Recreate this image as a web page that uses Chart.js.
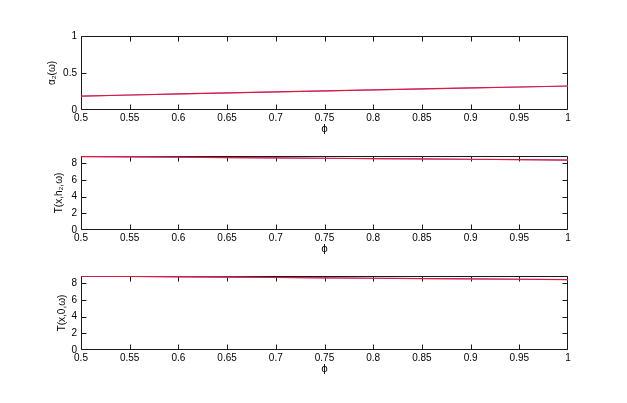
<!DOCTYPE html>
<html>
<head>
<meta charset="utf-8">
<script src="https://cdn.jsdelivr.net/npm/chart.js@4/dist/chart.umd.min.js"></script>
<style>
html,body{margin:0;padding:0;background:#fff;}
#wrap{position:relative;width:627px;height:403px;overflow:hidden;background:#fff;}
canvas{position:absolute;left:0;}
</style>
</head>
<body>
<div id="wrap">
<canvas id="c1" style="top:26px"></canvas>
<canvas id="c2" style="top:146px"></canvas>
<canvas id="c3" style="top:266px"></canvas>
</div>
<script>
// phi values (x axis)
const phi = [0.5, 0.55, 0.6, 0.65, 0.7, 0.75, 0.8, 0.85, 0.9, 0.95, 1.0];
// subplot 1: alpha_2(omega)
const alphaBlue = [0.187, 0.202, 0.216, 0.230, 0.244, 0.257, 0.271, 0.284, 0.297, 0.310, 0.323];
const alphaRed  = [0.188, 0.203, 0.217, 0.231, 0.245, 0.258, 0.272, 0.285, 0.298, 0.311, 0.324];
// subplot 2: T(x,h2,omega)
const th2Blue = [8.79, 8.75, 8.70, 8.66, 8.61, 8.57, 8.53, 8.49, 8.45, 8.41, 8.37];
const th2Red  = [8.78, 8.74, 8.70, 8.66, 8.62, 8.58, 8.54, 8.50, 8.46, 8.42, 8.36];
// subplot 3: T(x,0,omega)
const t0Blue = [8.84, 8.80, 8.76, 8.72, 8.67, 8.63, 8.59, 8.55, 8.51, 8.47, 8.42];
const t0Red  = [8.83, 8.79, 8.75, 8.71, 8.67, 8.62, 8.58, 8.54, 8.50, 8.46, 8.41];
// tick labels
const xTicks = [0.5, 0.55, 0.6, 0.65, 0.7, 0.75, 0.8, 0.85, 0.9, 0.95, 1];
const yTicks1 = [0, 0.5, 1];
const yTicks2 = [0, 2, 4, 6, 8];

const FONT = "'Liberation Sans', Arial, Helvetica, sans-serif";
const AXC = '#1a1a1a';

const boxPlugin = {
  id: 'box',
  beforeDatasetsDraw(chart) {
    const {ctx, chartArea: a, scales} = chart;
    ctx.save();
    ctx.strokeStyle = AXC;
    ctx.lineWidth = 1;
    const L = Math.round(a.left) + 0.5, R = Math.round(a.right) - 0.5;
    const T = Math.round(a.top) + 0.5, B = Math.round(a.bottom) - 0.5;
    ctx.beginPath();
    ctx.rect(L, T, R - L, B - T);
    ctx.stroke();
    const tl = 5;
    ctx.beginPath();
    scales.x.ticks.forEach(t => {
      const px = Math.min(R, Math.max(L, Math.round(scales.x.getPixelForValue(t.value)) + 0.5));
      ctx.moveTo(px, B); ctx.lineTo(px, B - tl);
      ctx.moveTo(px, T); ctx.lineTo(px, T + tl);
    });
    scales.y.ticks.forEach(t => {
      const py = Math.min(B, Math.max(T, Math.round(scales.y.getPixelForValue(t.value)) + 0.5));
      ctx.moveTo(L, py); ctx.lineTo(L + tl, py);
      ctx.moveTo(R, py); ctx.lineTo(R - tl, py);
    });
    ctx.stroke();
    ctx.restore();
  }
};

function makeChart(id, blue, red, yMax, yTicks, yTitle, titlePad) {
  const el = document.getElementById(id);
  el.width = 627; el.height = 114;
  el.style.width = '627px'; el.style.height = '114px';
  return new Chart(el, {
    type: 'line',
    data: {
      labels: phi,
      datasets: [
        // dataset 0 is drawn on top in Chart.js
        {data: phi.map((x, i) => ({x: x, y: red[i]})), borderColor: 'rgb(222,24,62)', borderWidth: 1.2, pointRadius: 0, fill: false, tension: 0},
        {data: phi.map((x, i) => ({x: x, y: blue[i]})), borderColor: 'rgb(150,110,200)', borderWidth: 1, pointRadius: 0, fill: false, tension: 0}
      ]
    },
    options: {
      responsive: false,
      animation: false,
      devicePixelRatio: 1,
      layout: {padding: {top: 10, right: 59, left: 0, bottom: 0}},
      plugins: {legend: {display: false}, tooltip: {enabled: false}},
      scales: {
        x: {
          type: 'linear', min: 0.5, max: 1,
          afterBuildTicks: s => { s.ticks = xTicks.map(v => ({value: v})); },
          afterFit: s => { s.height = 30; },
          border: {display: false},
          grid: {display: false, drawTicks: false},
          ticks: {autoSkip: false, maxRotation: 0, padding: 2, color: '#000',
                  font: {family: FONT, size: 10},
                  callback: v => String(Number(v.toFixed(2)))},
          title: {display: true, text: 'ϕ', color: '#000', font: {family: "'DejaVu Sans', sans-serif", size: 10}, padding: {top: 0, bottom: 5}}
        },
        y: {
          type: 'linear', min: 0, max: yMax,
          afterBuildTicks: s => { s.ticks = yTicks.map(v => ({value: v})); },
          afterFit: s => { s.width = 81; },
          border: {display: false},
          grid: {display: false, drawTicks: false},
          ticks: {autoSkip: false, padding: 4, color: '#000',
                  font: {family: FONT, size: 10},
                  callback: v => String(Number(v.toFixed(2)))},
          title: {display: true, text: yTitle, color: '#000', font: {family: FONT, size: 10}, padding: {top: titlePad, bottom: 0}}
        }
      }
    },
    plugins: [boxPlugin]
  });
}

makeChart('c1', alphaBlue, alphaRed, 1, yTicks1, 'α₂(ω)', 46);
makeChart('c2', th2Blue, th2Red, 8.85, yTicks2, 'T(x,h₂,ω)', 53);
makeChart('c3', t0Blue, t0Red, 8.85, yTicks2, 'T(x,0,ω)', 56);
</script>
</body>
</html>
